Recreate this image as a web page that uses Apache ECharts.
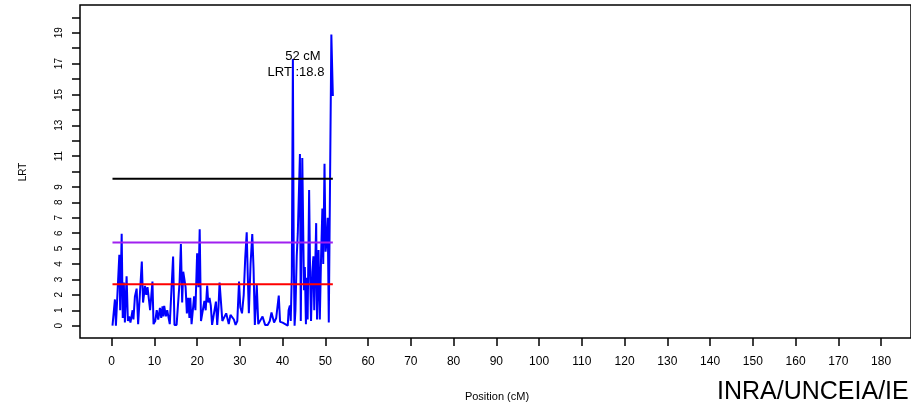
<!DOCTYPE html>
<html>
<head>
<meta charset="utf-8">
<script src="https://cdn.jsdelivr.net/npm/echarts@6/dist/echarts.min.js"></script>
<style>html,body{margin:0;padding:0;background:#fff;}#c{width:911px;height:409px;}</style>
</head>
<body>
<div id="c"></div>
<script>
// Positions (cM) and LRT values
var positions = [0.2,0.5,0.77,1.0,1.3,1.8,2.0,2.35,2.6,2.85,3.1,3.5,3.8,4.1,4.4,4.9,5.1,5.45,5.85,6.2,6.6,7.06,7.35,7.8,8.1,8.4,8.6,9.0,9.55,9.8,10.2,10.55,10.9,11.3,11.6,11.9,12.1,12.3,12.7,13.0,13.3,13.6,14.0,14.38,14.7,15.2,15.5,15.9,16.2,16.5,16.75,17.05,17.3,17.6,17.9,18.2,18.4,18.7,19.0,19.3,19.6,20.0,20.3,20.6,20.9,21.3,21.7,22.0,22.35,22.6,22.9,23.2,23.5,23.9,24.4,24.7,25.0,25.25,25.6,25.9,26.3,26.8,27.1,27.4,27.8,28.2,28.6,29.0,29.4,29.8,30.1,30.5,30.9,31.25,31.6,31.85,32.1,32.5,32.9,33.2,33.5,33.95,34.3,34.7,35.3,35.6,35.9,36.5,37.0,37.4,37.7,38.0,38.5,39.1,39.4,40.0,40.6,41.2,41.4,41.7,41.9,42.15,42.4,42.6,42.8,43.0,43.3,43.55,44.05,44.25,44.6,44.85,45.0,45.2,45.45,45.6,45.85,46.2,46.45,46.65,46.95,47.2,47.4,47.85,48.05,48.4,48.7,49.0,49.3,49.5,49.8,50.05,50.3,50.55,50.8,51.0,51.4,51.75];
var lrt = [0,0.1,1.7,0,0.1,4.6,1.0,5.96,0.5,2.8,0.2,3.2,0.3,0.6,0.2,1.0,0.4,1.9,2.4,0.1,0.2,4.16,1.5,2.58,2.0,2.5,2.45,1.0,2.86,0.1,0.3,1.0,0.4,1.15,0.5,1.25,0.6,1.28,0.6,1.0,1.05,0.1,0.05,4.49,0.05,0.05,0.1,2.86,5.3,1.5,3.5,3.4,2.5,0.8,1.8,0.5,1.8,0.1,0.2,1.9,1.0,4.7,2.5,6.26,0.3,0.3,1.6,1.0,2.6,1.5,1.8,1.3,0.05,0.1,1.56,0.05,1.2,2.8,2.86,0.3,0.2,0.8,0.85,0.1,0.7,0.6,0.4,0.05,0.3,2.86,1.2,0.8,2.0,4.38,6.05,3.2,0.8,4.0,5.94,3.7,0.05,2.65,0.1,0.1,0.6,0.7,0.05,0.05,0.3,0.85,0.9,0.2,0.5,1.95,0.25,0.2,0.1,0.0,1.0,1.3,0.3,3.3,17.3,4.5,0.0,1.0,4.5,6.0,11.13,0.3,10.87,10.8,2.3,3.8,0.1,3.1,0.4,8.8,3.0,0.3,3.5,4.5,1.0,6.65,0.4,4.9,0.4,4.5,7.6,4.0,10.5,4.8,5.5,7.0,0.2,0.1,18.88,14.9];
// Threshold lines (black, purple, red)
var thresholds = [9.53, 5.40, 2.69];
var thresholdColors = ['#000000', '#A020F0', '#FF0000'];
var xTicks = [0,10,20,30,40,50,60,70,80,90,100,110,120,130,140,150,160,170,180];
var yTicks = [0,1,2,3,4,5,6,7,8,9,10,11,12,13,14,15,16,17,18,19,20];
var yLabels = [0,1,2,3,4,5,6,7,8,9,11,13,15,17,19];
var peakText = ['52 cM', 'LRT :18.8'];

var FONT = 'Liberation Sans, Arial, sans-serif';
var chart = echarts.init(document.getElementById('c'), null, {renderer: 'canvas'});
var lineData = positions.map(function (p, i) { return [p, lrt[i]]; });
var xStart = positions[0], xEnd = positions[positions.length - 1];

var series = [{
  type: 'line', data: lineData, symbol: 'none', animation: false,
  lineStyle: {color: '#0000FF', width: 2}, z: 3
}];
thresholds.forEach(function (t, i) {
  series.push({
    type: 'line', data: [[xStart, t], [xEnd, t]], symbol: 'none', animation: false,
    lineStyle: {color: thresholdColors[i], width: 2}, z: 4
  });
});

chart.setOption({
  animation: false,
  grid: {left: 80, top: 5, width: 834, height: 333, show: true, borderColor: '#000', borderWidth: 1.5, backgroundColor: 'transparent'},
  xAxis: {
    type: 'value', min: -7.4, max: 187,
    axisLine: {show: false, onZero: false},
    splitLine: {show: false},
    axisTick: {show: true, length: 8, lineStyle: {color: '#000', width: 1.5}, customValues: xTicks},
    axisLabel: {show: true, margin: 18, color: '#000', fontSize: 12, fontFamily: FONT, customValues: xTicks}
  },
  yAxis: {
    type: 'value', min: -0.8, max: 20.8,
    axisLine: {show: false, onZero: false},
    splitLine: {show: false},
    axisTick: {show: true, length: 8, lineStyle: {color: '#000', width: 1.5}, customValues: yTicks},
    axisLabel: {show: true, margin: 16, rotate: 90, color: '#000', fontSize: 10, fontFamily: FONT, customValues: yLabels}
  },
  series: series,
  graphic: [
    {type: 'text', x: 23, y: 172, rotation: Math.PI / 2, style: {text: 'LRT', fill: '#000', font: '10px ' + FONT, textAlign: 'center', textVerticalAlign: 'middle'}},
    {type: 'text', x: 497, y: 397, style: {text: 'Position (cM)', fill: '#000', font: '11px ' + FONT, textAlign: 'center', textVerticalAlign: 'middle'}},
    {type: 'text', x: 717, y: 392, style: {text: 'INRA/UNCEIA/IE', fill: '#000', font: '25px ' + FONT, textAlign: 'left', textVerticalAlign: 'middle'}},
    {type: 'text', x: 303, y: 56, style: {text: peakText[0], fill: '#000', font: '13px ' + FONT, textAlign: 'center', textVerticalAlign: 'middle'}, z: 10},
    {type: 'text', x: 296, y: 72, style: {text: peakText[1], fill: '#000', font: '13px ' + FONT, textAlign: 'center', textVerticalAlign: 'middle'}, z: 10}
  ]
});
</script>
</body>
</html>
